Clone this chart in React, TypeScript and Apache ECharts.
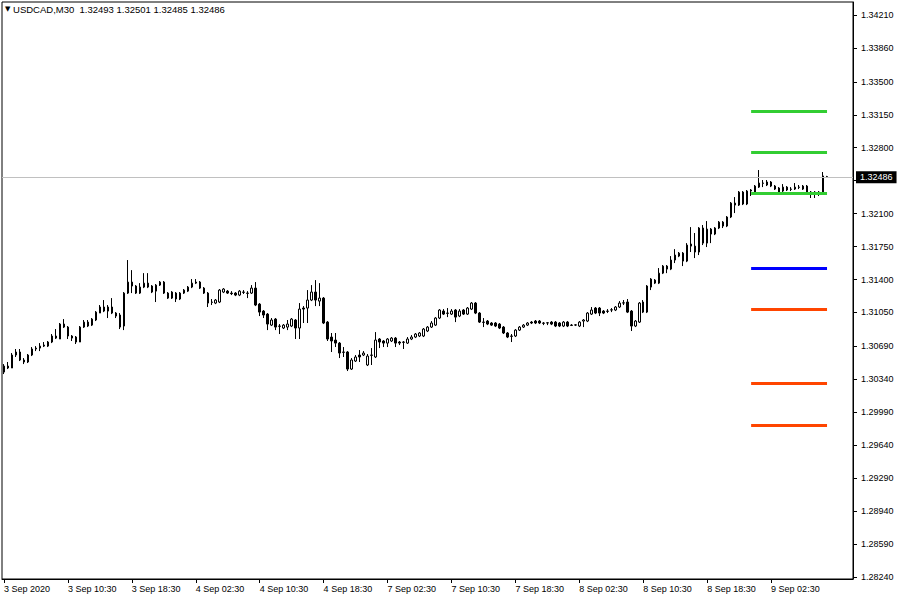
import React, { useEffect, useRef } from "react";
import * as echarts from "echarts";

const symbolName = "USDCAD,M30";
const xTickLabels = [
  "3 Sep 2020", "3 Sep 10:30", "3 Sep 18:30", "4 Sep 02:30", "4 Sep 10:30", "4 Sep 18:30",
  "7 Sep 02:30", "7 Sep 10:30", "7 Sep 18:30", "8 Sep 02:30", "8 Sep 10:30", "8 Sep 18:30", "9 Sep 02:30",
];
const yLabelValues = [
  1.3421, 1.3386, 1.335, 1.3315, 1.328, 1.321, 1.3175, 1.314, 1.3105, 1.3069, 1.3034,
  1.2999, 1.2964, 1.2929, 1.2894, 1.2859, 1.2824,
];
const yTickValues = [
  1.3421, 1.3386, 1.335, 1.3315, 1.328, 1.3245, 1.321, 1.3175, 1.314, 1.3105, 1.3069, 1.3034,
  1.2999, 1.2964, 1.2929, 1.2894, 1.2859, 1.2824,
];

const opens = [
  1.30417, 1.30481, 1.30460, 1.30598, 1.30630, 1.30545, 1.30524, 1.30598, 1.30662, 1.30672,
  1.30693, 1.30693, 1.30736, 1.30800, 1.30768, 1.30927, 1.30895, 1.30800, 1.30789, 1.30736,
  1.30895, 1.30948, 1.30916, 1.30970, 1.31044, 1.31108, 1.31065, 1.31108, 1.31044, 1.31023,
  1.30906, 1.31256, 1.31373, 1.31331, 1.31256, 1.31320, 1.31362, 1.31331, 1.31277, 1.31341,
  1.31373, 1.31256, 1.31203, 1.31256, 1.31193, 1.31256, 1.31277, 1.31320, 1.31373, 1.31373,
  1.31309, 1.31256, 1.31161, 1.31150, 1.31161, 1.31267, 1.31277, 1.31256, 1.31256, 1.31235,
  1.31267, 1.31256, 1.31256, 1.31309, 1.31139, 1.31065, 1.31033, 1.30916, 1.30980, 1.30906,
  1.30885, 1.30895, 1.30906, 1.30970, 1.30885, 1.31097, 1.31097, 1.31182, 1.31267, 1.31171,
  1.31203, 1.30948, 1.30789, 1.30757, 1.30725, 1.30630, 1.30630, 1.30449, 1.30534, 1.30598,
  1.30598, 1.30492, 1.30598, 1.30577, 1.30768, 1.30747, 1.30725, 1.30747, 1.30778, 1.30736,
  1.30736, 1.30725, 1.30768, 1.30789, 1.30800, 1.30800, 1.30853, 1.30895, 1.30916, 1.30991,
  1.31065, 1.31044, 1.31033, 1.31076, 1.31012, 1.31076, 1.31033, 1.31086, 1.31150, 1.31044,
  1.30948, 1.30959, 1.30938, 1.30938, 1.30927, 1.30895, 1.30832, 1.30800, 1.30800, 1.30863,
  1.30895, 1.30916, 1.30948, 1.30959, 1.30959, 1.30938, 1.30938, 1.30948, 1.30948, 1.30938,
  1.30906, 1.30948, 1.30916, 1.30916, 1.30906, 1.30959, 1.30959, 1.31033, 1.31097, 1.31097,
  1.31065, 1.31065, 1.31076, 1.31076, 1.31108, 1.31150, 1.31161, 1.31065, 1.30906, 1.30948,
  1.31161, 1.31054, 1.31320, 1.31394, 1.31362, 1.31468, 1.31543, 1.31511, 1.31607, 1.31649,
  1.31681, 1.31596, 1.31777, 1.31755, 1.31692, 1.31947, 1.31787, 1.31936, 1.31883, 1.31947,
  1.32010, 1.31968, 1.32064, 1.32212, 1.32191, 1.32329, 1.32202, 1.32340, 1.32329, 1.32382,
  1.32425, 1.32404, 1.32436, 1.32393, 1.32372, 1.32340, 1.32382, 1.32361, 1.32361, 1.32382,
  1.32361, 1.32393, 1.32329, 1.32329, 1.32329, 1.32319, 1.32493,
];
const highs = [
  1.30502, 1.30524, 1.30619, 1.30662, 1.30662, 1.30566, 1.30609, 1.30683, 1.30693, 1.30725,
  1.30736, 1.30747, 1.30821, 1.30874, 1.30938, 1.30980, 1.30906, 1.30810, 1.30800, 1.30906,
  1.30970, 1.30970, 1.30991, 1.31065, 1.31129, 1.31182, 1.31129, 1.31203, 1.31054, 1.31044,
  1.31267, 1.31607, 1.31500, 1.31341, 1.31362, 1.31468, 1.31468, 1.31341, 1.31352, 1.31384,
  1.31384, 1.31267, 1.31277, 1.31267, 1.31267, 1.31299, 1.31331, 1.31405, 1.31405, 1.31384,
  1.31320, 1.31267, 1.31193, 1.31193, 1.31299, 1.31309, 1.31288, 1.31277, 1.31267, 1.31288,
  1.31288, 1.31277, 1.31341, 1.31373, 1.31150, 1.31076, 1.31044, 1.30991, 1.30991, 1.30927,
  1.30927, 1.30970, 1.30991, 1.30980, 1.31150, 1.31118, 1.31288, 1.31341, 1.31394, 1.31362,
  1.31214, 1.30959, 1.30832, 1.30832, 1.30736, 1.30683, 1.30640, 1.30566, 1.30598, 1.30651,
  1.30640, 1.30609, 1.30672, 1.30842, 1.30778, 1.30757, 1.30778, 1.30789, 1.30789, 1.30747,
  1.30747, 1.30789, 1.30810, 1.30832, 1.30842, 1.30885, 1.30906, 1.30959, 1.31001, 1.31086,
  1.31086, 1.31097, 1.31086, 1.31086, 1.31086, 1.31086, 1.31108, 1.31161, 1.31161, 1.31054,
  1.30991, 1.30970, 1.30948, 1.30948, 1.30938, 1.30906, 1.30842, 1.30821, 1.30874, 1.30906,
  1.30927, 1.30948, 1.30959, 1.30970, 1.30970, 1.30948, 1.30948, 1.30959, 1.30959, 1.30948,
  1.30959, 1.30959, 1.30927, 1.30927, 1.30959, 1.30980, 1.31054, 1.31108, 1.31108, 1.31108,
  1.31076, 1.31086, 1.31097, 1.31118, 1.31171, 1.31182, 1.31193, 1.31076, 1.30970, 1.31161,
  1.31182, 1.31341, 1.31415, 1.31405, 1.31522, 1.31554, 1.31554, 1.31649, 1.31723, 1.31692,
  1.31692, 1.31787, 1.31957, 1.31894, 1.31957, 1.31979, 1.32021, 1.31947, 1.31957, 1.32021,
  1.32021, 1.32074, 1.32223, 1.32276, 1.32340, 1.32340, 1.32351, 1.32361, 1.32404, 1.32563,
  1.32457, 1.32457, 1.32446, 1.32404, 1.32382, 1.32414, 1.32393, 1.32382, 1.32425, 1.32404,
  1.32404, 1.32404, 1.32340, 1.32340, 1.32340, 1.32542, 1.32501,
];
const lows = [
  1.30396, 1.30449, 1.30460, 1.30577, 1.30534, 1.30502, 1.30513, 1.30587, 1.30640, 1.30640,
  1.30683, 1.30683, 1.30725, 1.30768, 1.30768, 1.30885, 1.30768, 1.30747, 1.30715, 1.30736,
  1.30885, 1.30895, 1.30906, 1.30959, 1.31044, 1.31054, 1.30991, 1.31033, 1.30991, 1.30874,
  1.30863, 1.31246, 1.31256, 1.31246, 1.31246, 1.31309, 1.31309, 1.31256, 1.31161, 1.31331,
  1.31246, 1.31193, 1.31193, 1.31161, 1.31182, 1.31246, 1.31267, 1.31309, 1.31352, 1.31299,
  1.31246, 1.31108, 1.31129, 1.31139, 1.31150, 1.31256, 1.31246, 1.31235, 1.31224, 1.31224,
  1.31246, 1.31203, 1.31246, 1.31118, 1.31012, 1.30991, 1.30863, 1.30906, 1.30863, 1.30821,
  1.30874, 1.30863, 1.30895, 1.30768, 1.30768, 1.30938, 1.30938, 1.31171, 1.31118, 1.31118,
  1.30927, 1.30747, 1.30630, 1.30683, 1.30566, 1.30577, 1.30428, 1.30439, 1.30524, 1.30524,
  1.30587, 1.30481, 1.30492, 1.30566, 1.30672, 1.30683, 1.30683, 1.30736, 1.30683, 1.30704,
  1.30662, 1.30715, 1.30757, 1.30778, 1.30789, 1.30789, 1.30842, 1.30885, 1.30906, 1.30980,
  1.31023, 1.31001, 1.31023, 1.30948, 1.31001, 1.31023, 1.31023, 1.31076, 1.31033, 1.30938,
  1.30895, 1.30916, 1.30906, 1.30895, 1.30874, 1.30821, 1.30778, 1.30736, 1.30789, 1.30853,
  1.30885, 1.30906, 1.30927, 1.30927, 1.30927, 1.30916, 1.30916, 1.30916, 1.30895, 1.30895,
  1.30895, 1.30895, 1.30906, 1.30906, 1.30895, 1.30895, 1.30948, 1.31023, 1.31033, 1.31012,
  1.31033, 1.31044, 1.31054, 1.31065, 1.31097, 1.31129, 1.31044, 1.30853, 1.30895, 1.30938,
  1.31044, 1.31044, 1.31288, 1.31352, 1.31352, 1.31458, 1.31468, 1.31500, 1.31575, 1.31638,
  1.31543, 1.31585, 1.31692, 1.31628, 1.31660, 1.31766, 1.31745, 1.31787, 1.31872, 1.31936,
  1.31947, 1.31957, 1.32053, 1.32106, 1.32181, 1.32191, 1.32191, 1.32287, 1.32319, 1.32372,
  1.32382, 1.32393, 1.32382, 1.32351, 1.32298, 1.32329, 1.32340, 1.32340, 1.32351, 1.32361,
  1.32351, 1.32319, 1.32266, 1.32266, 1.32287, 1.32308, 1.32485,
];
const closes = [
  1.30481, 1.30460, 1.30598, 1.30630, 1.30545, 1.30524, 1.30598, 1.30662, 1.30672, 1.30693,
  1.30704, 1.30736, 1.30800, 1.30778, 1.30927, 1.30895, 1.30800, 1.30778, 1.30736, 1.30895,
  1.30948, 1.30906, 1.30980, 1.31054, 1.31108, 1.31065, 1.31108, 1.31044, 1.31012, 1.30895,
  1.31256, 1.31373, 1.31331, 1.31256, 1.31320, 1.31362, 1.31320, 1.31267, 1.31341, 1.31373,
  1.31256, 1.31203, 1.31267, 1.31193, 1.31256, 1.31288, 1.31320, 1.31362, 1.31362, 1.31309,
  1.31256, 1.31150, 1.31158, 1.31182, 1.31288, 1.31299, 1.31256, 1.31250, 1.31235, 1.31277,
  1.31264, 1.31253, 1.31309, 1.31129, 1.31054, 1.31023, 1.30927, 1.30970, 1.30895, 1.30903,
  1.30916, 1.30927, 1.30980, 1.30885, 1.31086, 1.31086, 1.31182, 1.31267, 1.31182, 1.31203,
  1.30938, 1.30768, 1.30747, 1.30725, 1.30619, 1.30627, 1.30449, 1.30545, 1.30577, 1.30577,
  1.30619, 1.30587, 1.30595, 1.30757, 1.30736, 1.30725, 1.30768, 1.30778, 1.30725, 1.30725,
  1.30733, 1.30768, 1.30789, 1.30821, 1.30832, 1.30874, 1.30895, 1.30938, 1.30991, 1.31076,
  1.31033, 1.31041, 1.31065, 1.31001, 1.31065, 1.31033, 1.31097, 1.31150, 1.31044, 1.30948,
  1.30945, 1.30927, 1.30916, 1.30906, 1.30885, 1.30832, 1.30789, 1.30797, 1.30863, 1.30895,
  1.30916, 1.30938, 1.30938, 1.30938, 1.30938, 1.30935, 1.30941, 1.30927, 1.30906, 1.30906,
  1.30948, 1.30906, 1.30913, 1.30919, 1.30948, 1.30970, 1.31044, 1.31076, 1.31044, 1.31044,
  1.31044, 1.31062, 1.31079, 1.31108, 1.31150, 1.31153, 1.31054, 1.30906, 1.30959, 1.31150,
  1.31054, 1.31331, 1.31405, 1.31362, 1.31468, 1.31543, 1.31511, 1.31607, 1.31660, 1.31681,
  1.31596, 1.31766, 1.31755, 1.31692, 1.31947, 1.31787, 1.31936, 1.31883, 1.31947, 1.32010,
  1.31968, 1.32064, 1.32212, 1.32191, 1.32329, 1.32202, 1.32340, 1.32351, 1.32393, 1.32425,
  1.32422, 1.32436, 1.32393, 1.32361, 1.32329, 1.32382, 1.32351, 1.32358, 1.32382, 1.32379,
  1.32393, 1.32329, 1.32326, 1.32319, 1.32319, 1.32500, 1.32486,
];

const greenLevels = [1.3319, 1.32755, 1.32319];
const blueLevels = [1.31523];
const redLevels = [1.31087, 1.30301, 1.29855];
const lastPrice = 1.32486;

const SLOT_COUNT = 213;
const LEVEL_START = 187;
const LEVEL_END = 206;
const FONT = '"Liberation Sans", Arial, sans-serif';

function pad(n: number) {
  return n < 10 ? "0" + n : String(n);
}

function buildCategories(): string[] {
  const out: string[] = [];
  let t = Date.UTC(2020, 8, 3, 2, 30);
  for (let i = 0; i < SLOT_COUNT; i++) {
    const d = new Date(t);
    out.push(
      `${d.getUTCFullYear()}.${pad(d.getUTCMonth() + 1)}.${pad(d.getUTCDate())} ${pad(d.getUTCHours())}:${pad(d.getUTCMinutes())}`
    );
    t += 30 * 60 * 1000;
    if (new Date(t).getUTCDay() === 6) t += 2 * 24 * 3600 * 1000;
  }
  return out;
}

export default function App() {
  const ref = useRef<HTMLDivElement>(null);

  useEffect(() => {
    if (!ref.current) return;
    const chart = echarts.init(ref.current, undefined, { renderer: "svg" });
    const categories = buildCategories();
    const labelMap = new Map<string, string>();
    xTickLabels.forEach((l, k) => labelMap.set(categories[k * 16], l));
    const showIdx = (i: number) => i % 16 === 0 && i / 16 < xTickLabels.length;

    const candleData = opens.map((o, i) => [o, closes[i], lows[i], highs[i]]);
    const last = opens.length - 1;

    const levelLine = (v: number, color: string) => [
      { coord: [categories[LEVEL_START], v], lineStyle: { color, width: 3, type: "solid" } },
      { coord: [categories[LEVEL_END], v] },
    ];

    chart.setOption({
      animation: false,
      backgroundColor: "#ffffff",
      title: {
        text: `{tri|▼} ${symbolName}  ${opens[last].toFixed(5)} ${highs[last].toFixed(5)} ${lows[last].toFixed(5)} ${closes[last].toFixed(5)}`,
        left: 3,
        top: 3,
        padding: [1, 3, 2, 2],
        backgroundColor: "#ffffff",
        textStyle: {
          fontSize: 9.5,
          fontWeight: "normal",
          color: "#000",
          fontFamily: FONT,
          rich: { tri: { fontSize: 7, color: "#000", fontFamily: "DejaVu Sans" } },
        },
      },
      grid: {
        left: 2,
        right: 47,
        top: 2,
        bottom: 21,
        show: true,
        borderColor: "#000",
        borderWidth: 1,
        backgroundColor: "#fff",
      },
      xAxis: {
        type: "category",
        data: categories,
        boundaryGap: true,
        axisLine: { show: true, lineStyle: { color: "#000", width: 1 } },
        axisTick: {
          show: true,
          alignWithLabel: true,
          interval: (i: number) => showIdx(i),
          length: 4,
          lineStyle: { color: "#000" },
        },
        axisLabel: {
          interval: (i: number) => showIdx(i),
          formatter: (v: string) => labelMap.get(v) ?? "",
          align: "left",
          margin: 5,
          color: "#000",
          fontSize: 9,
          fontFamily: FONT,
        },
        splitLine: { show: false },
      },
      yAxis: {
        type: "value",
        position: "right",
        min: 1.28219,
        max: 1.34348,
        scale: true,
        axisLine: { show: true, lineStyle: { color: "#000", width: 1 } },
        axisTick: { show: true, customValues: yTickValues, length: 4, lineStyle: { color: "#000" } },
        axisLabel: {
          customValues: yLabelValues,
          formatter: (v: number) => v.toFixed(5),
          margin: 8,
          color: "#000",
          fontSize: 9,
          fontFamily: FONT,
        },
        splitLine: { show: false },
      },
      series: [
        {
          type: "line",
          name: "price",
          data: [],
          silent: true,
          z: 1,
          markLine: {
            silent: true,
            precision: 5,
            symbol: ["none", "none"],
            data: [
              {
                yAxis: lastPrice,
                lineStyle: { color: "#c0c0c0", width: 1, type: "solid" },
                label: {
                  show: true,
                  position: "end",
                  distance: 3,
                  formatter: lastPrice.toFixed(5),
                  color: "#ffffff",
                  backgroundColor: "#000000",
                  padding: [2, 4, 1, 4],
                  fontSize: 9,
                  fontFamily: FONT,
                },
              },
            ],
          },
        },
        {
          type: "candlestick",
          z: 2,
          data: candleData,
          barWidth: 2,
          itemStyle: {
            color: "#ffffff",
            color0: "#000000",
            borderColor: "#000000",
            borderColor0: "#000000",
            borderWidth: 1,
          },
          markLine: {
            silent: true,
            precision: 5,
            symbol: ["none", "none"],
            label: { show: false },
            data: [
              ...greenLevels.map((v) => levelLine(v, "#32cd32")),
              ...blueLevels.map((v) => levelLine(v, "#0000ff")),
              ...redLevels.map((v) => levelLine(v, "#ff4500")),
            ],
          },
        },
      ],
    });

    return () => chart.dispose();
  }, []);

  return (
    <div
      ref={ref}
      style={{ position: "fixed", left: 0, top: 0, width: 900, height: 600, background: "#fff" }}
    />
  );
}
